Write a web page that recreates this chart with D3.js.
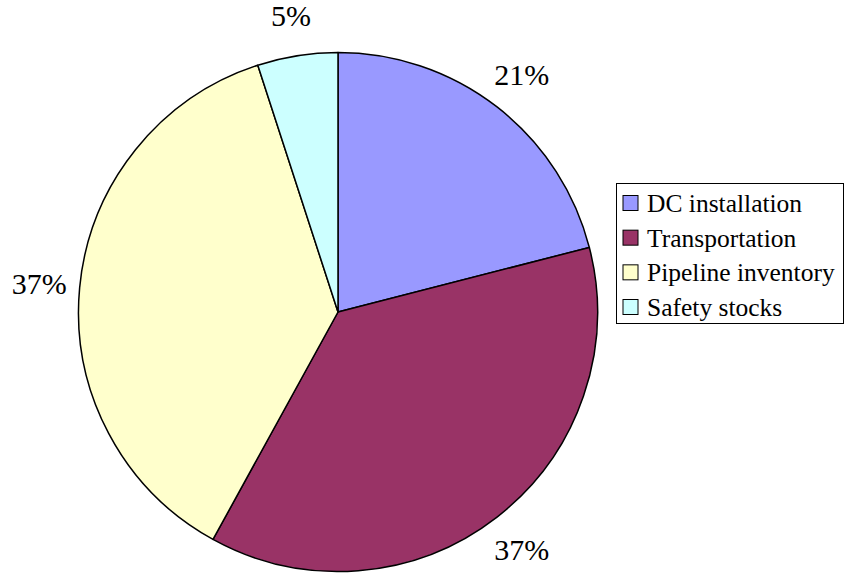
<!DOCTYPE html>
<html>
<head>
<meta charset="utf-8">
<script src="https://cdn.jsdelivr.net/npm/d3@7/dist/d3.min.js"></script>
</head>
<body style="margin:0">
<svg id="chart" width="846" height="577" font-family="Liberation Serif"></svg>
<script>
// Cost breakdown, percent of total
const categories = ["DC installation", "Transportation", "Pipeline inventory", "Safety stocks"];
const values = [21, 37, 37, 5];
const colors = ["#9999FF", "#993366", "#FFFFCC", "#CCFFFF"];

const svg = d3.select("#chart");
const cx = 338, cy = 312, radius = 259.5, labelRadius = 300;

const pie = d3.pie().sort(null).value(d => d.value);
const arcs = pie(categories.map((c, i) => ({ name: c, value: values[i] })));

const color = d3.scaleOrdinal().domain(categories).range(colors);
const arc = d3.arc().innerRadius(0).outerRadius(radius);
const labelArc = d3.arc().innerRadius(labelRadius).outerRadius(labelRadius);

const g = svg.append("g").attr("transform", `translate(${cx},${cy})`);

g.selectAll("path.slice")
  .data(arcs)
  .join("path")
  .attr("class", "slice")
  .attr("d", arc)
  .attr("fill", d => color(d.data.name))
  .attr("stroke", "#000")
  .attr("stroke-width", 1.5)
  .attr("stroke-linejoin", "round");

// Percentage labels outside each slice
g.selectAll("text.pct")
  .data(arcs)
  .join("text")
  .attr("class", "pct")
  .attr("transform", d => `translate(${labelArc.centroid(d)})`)
  .attr("text-anchor", "middle")
  .attr("dy", "0.35em")
  .attr("font-size", 30)
  .style("font-family", d => `"Liberation Serif"`)
  .text(d => d.data.value + "%");

// Legend
const legend = svg.append("g").attr("transform", "translate(616,183)");
legend.append("rect")
  .attr("x", 0.5).attr("y", 0.5)
  .attr("width", 227).attr("height", 140)
  .attr("fill", "#fff")
  .attr("stroke", "#000")
  .attr("stroke-width", 1);

const rowY = d3.scalePoint().domain(categories).range([20, 124]);

const items = legend.selectAll("g.item")
  .data(categories)
  .join("g")
  .attr("class", "item")
  .attr("transform", d => `translate(0,${rowY(d)})`);

items.append("rect")
  .attr("x", 7).attr("y", -7.5)
  .attr("width", 15).attr("height", 15)
  .attr("fill", d => color(d))
  .attr("stroke", "#000")
  .attr("stroke-width", 1);

items.append("text")
  .attr("x", 31)
  .attr("dy", "0.35em")
  .attr("font-size", 25.5)
  .style("font-family", d => `"Liberation Serif"`)
  .text(d => d);
</script>
</body>
</html>
